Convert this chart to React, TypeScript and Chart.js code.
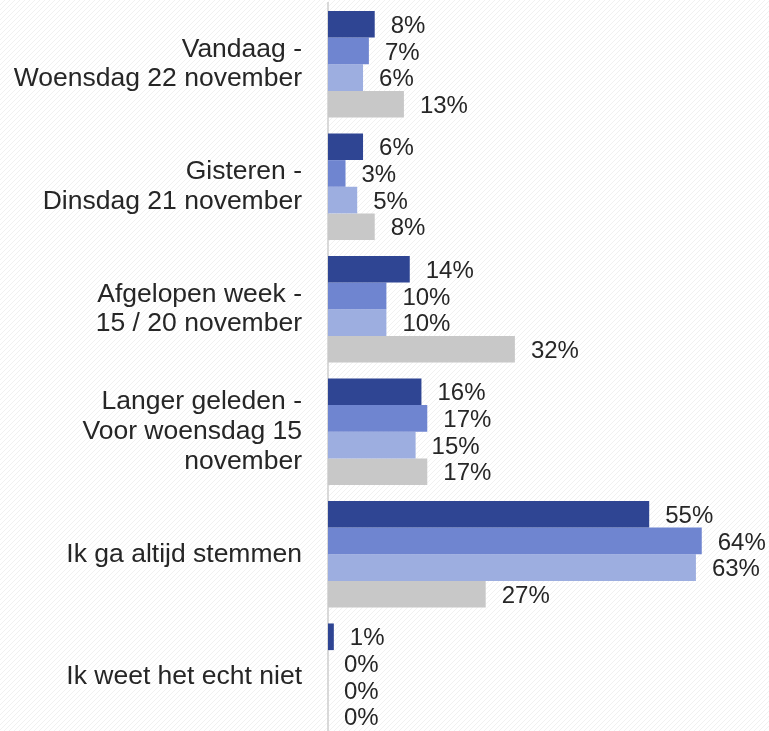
import React, { useEffect, useRef } from "react";
import { Chart, registerables } from "chart.js";

Chart.register(...registerables);

const categories: string[][] = [
  ["Vandaag -", "Woensdag 22 november"],
  ["Gisteren -", "Dinsdag 21 november"],
  ["Afgelopen week -", "15 / 20 november"],
  ["Langer geleden -", "Voor woensdag 15", "november"],
  ["Ik ga altijd stemmen"],
  ["Ik weet het echt niet"],
];

const series1 = [8, 6, 14, 16, 55, 1];
const series2 = [7, 3, 10, 17, 64, 0];
const series3 = [6, 5, 10, 15, 63, 0];
const series4 = [13, 8, 32, 17, 27, 0];

const seriesNames = ["Reeks 1", "Reeks 2", "Reeks 3", "Reeks 4"];
const seriesColors = ["#2F4593", "#6F85D0", "#9DAEE0", "#C8C8C8"];

const FONT = "'Liberation Sans', Arial, Helvetica, sans-serif";

const hatchPlugin = {
  id: "hatch",
  beforeDraw(chart: any) {
    const ctx = chart.ctx as CanvasRenderingContext2D;
    const tile = document.createElement("canvas");
    tile.width = 5;
    tile.height = 5;
    const t = tile.getContext("2d")!;
    t.fillStyle = "#ffffff";
    t.fillRect(0, 0, 5, 5);
    t.strokeStyle = "#F1F1F1";
    t.lineWidth = 1;
    t.beginPath();
    t.moveTo(-1, 6);
    t.lineTo(6, -1);
    t.stroke();
    const pattern = ctx.createPattern(tile, "repeat");
    ctx.save();
    if (pattern) ctx.fillStyle = pattern;
    ctx.fillRect(0, 0, chart.width, chart.height);
    ctx.restore();
  },
};

const labelPlugin = {
  id: "barLabels",
  afterDatasetsDraw(chart: any) {
    const ctx = chart.ctx as CanvasRenderingContext2D;
    ctx.save();
    ctx.font = `24px ${FONT}`;
    ctx.fillStyle = "#262626";
    ctx.textAlign = "left";
    ctx.textBaseline = "middle";
    chart.data.datasets.forEach((ds: any, i: number) => {
      const meta = chart.getDatasetMeta(i);
      meta.data.forEach((el: any, j: number) => {
        const v = ds.data[j];
        ctx.fillText(`${v}%`, el.x + 16, el.y + 2);
      });
    });
    ctx.restore();
  },
};

export default function App() {
  const ref = useRef<HTMLCanvasElement | null>(null);

  useEffect(() => {
    document.body.style.margin = "0";
    const canvas = ref.current;
    if (!canvas) return;
    const data = [series1, series2, series3, series4];
    const chart = new Chart(canvas, {
      type: "bar",
      data: {
        labels: categories,
        datasets: data.map((d, i) => ({
          label: seriesNames[i],
          data: d,
          backgroundColor: seriesColors[i],
          borderWidth: 0,
          barPercentage: 1,
          categoryPercentage: 0.87,
        })),
      },
      options: {
        indexAxis: "y",
        animation: false,
        responsive: false,
        maintainAspectRatio: false,
        layout: { padding: { top: 3, right: 3, left: 0, bottom: 0 } },
        plugins: {
          legend: { display: false },
          tooltip: { enabled: false },
        },
        scales: {
          x: {
            display: false,
            min: 0,
            max: 75,
          },
          y: {
            grid: { display: false, drawTicks: false },
            border: { display: true, color: "#D9D9D9", width: 2 },
            ticks: {
              padding: 26,
              color: "#262626",
              font: { family: FONT, size: 26.5, lineHeight: 1.12 },
            },
            afterFit: (scale: any) => {
              scale.width = 328;
              scale.paddingTop = 0;
              scale.paddingBottom = 0;
            },
          },
        },
      },
      plugins: [hatchPlugin, labelPlugin],
    });
    return () => chart.destroy();
  }, []);

  return (
    <div style={{ width: 769, height: 738 }}>
      <canvas ref={ref} width={769} height={738} style={{ display: "block" }} />
    </div>
  );
}
